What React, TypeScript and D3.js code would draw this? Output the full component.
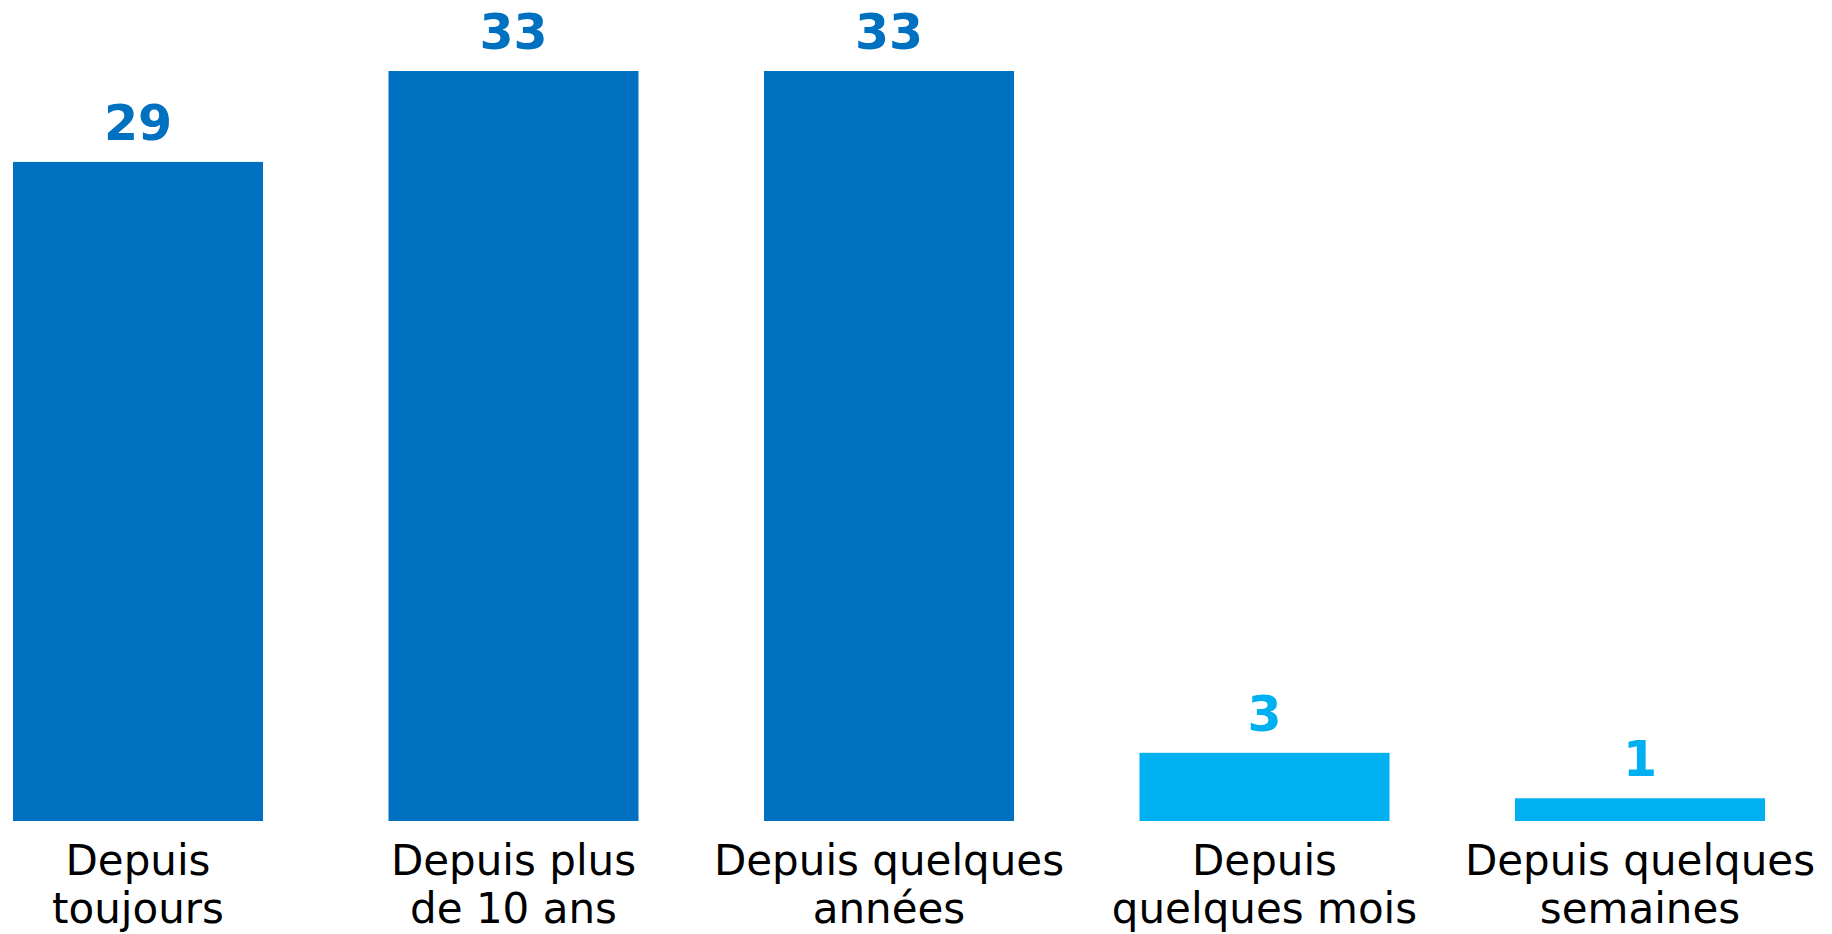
import React from "react";
import * as d3 from "d3";

const categories: string[][] = [
  ["Depuis", "toujours"],
  ["Depuis plus", "de 10 ans"],
  ["Depuis quelques", "années"],
  ["Depuis", "quelques mois"],
  ["Depuis quelques", "semaines"],
];
const values: number[] = [29, 33, 33, 3, 1];
const barColors: string[] = ["#0070C0", "#0070C0", "#0070C0", "#00B0F0", "#00B0F0"];

const W = 1832;
const H = 934;

export default function App() {
  const step = 375.5;
  const inner = 125.5 / step;
  const outer = inner / 2;
  const firstLeft = 13;
  const r0 = firstLeft - outer * step;
  const r1 = r0 + step * (values.length - inner + 2 * outer);
  const x = d3
    .scaleBand<number>()
    .domain(values.map((_, i) => i))
    .range([r0, r1])
    .paddingInner(inner)
    .paddingOuter(outer);
  const y = d3.scaleLinear().domain([0, 33]).range([821, 71]);

  return (
    <svg
      width={W}
      height={H}
      style={{ position: "absolute", left: 0, top: 0, display: "block" }}
      fontFamily="'DejaVu Sans', Verdana, sans-serif"
    >
      <rect x={0} y={0} width={W} height={H} fill="#ffffff" />
      {values.map((v, i) => {
        const bx = x(i) as number;
        const bw = x.bandwidth();
        const cx = bx + bw / 2;
        return (
          <g key={i}>
            <rect x={bx} y={y(v)} width={bw} height={y(0) - y(v)} fill={barColors[i]} />
            <text
              x={cx}
              y={y(v) - 22}
              textAnchor="middle"
              fontWeight="bold"
              fontSize={49}
              fill={barColors[i]}
            >
              {v}
            </text>
            {categories[i].map((line, j) => (
              <text
                key={j}
                x={cx}
                y={875 + j * 48}
                textAnchor="middle"
                fontSize={42}
                fill="#000000"
              >
                {line}
              </text>
            ))}
          </g>
        );
      })}
    </svg>
  );
}
